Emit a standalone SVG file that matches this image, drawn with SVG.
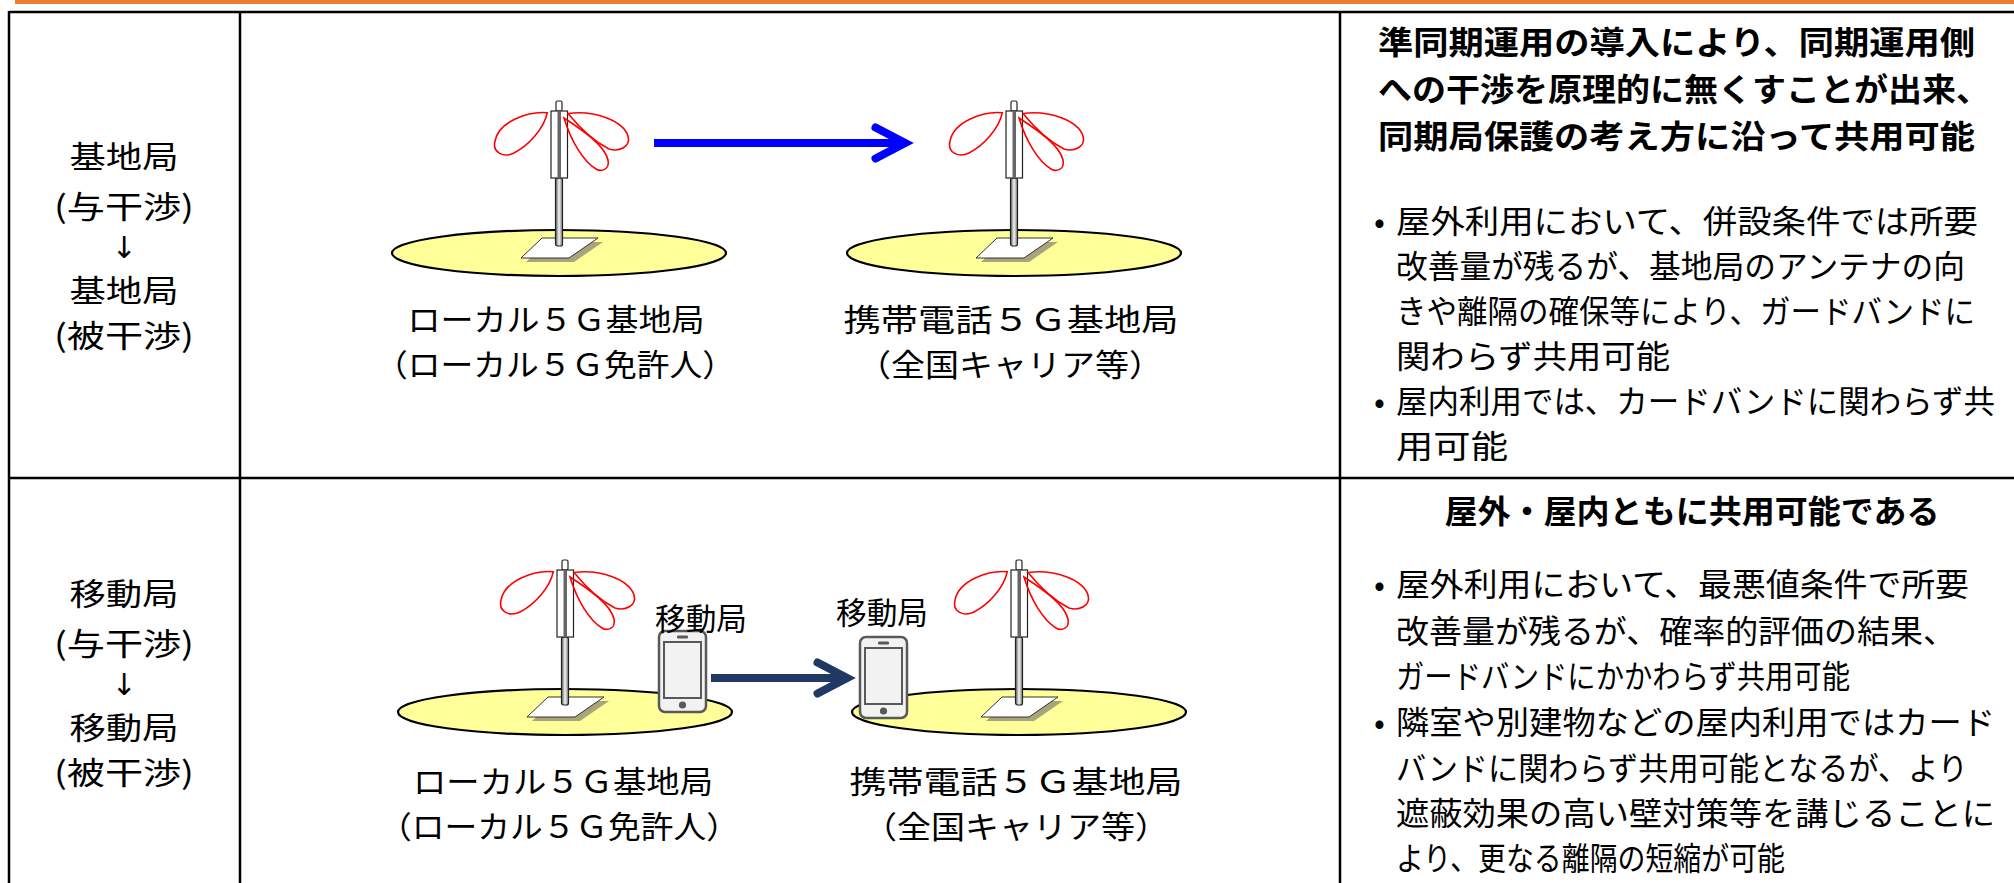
<svg xmlns="http://www.w3.org/2000/svg" xmlns:xlink="http://www.w3.org/1999/xlink" width="2014" height="883" viewBox="0 0 2014 883">
<style>
.t{font-family:"Noto Sans CJK JP","Noto Sans",sans-serif;fill:#000}
.lf{font-size:31px;text-anchor:middle}
.ar{font-family:"DejaVu Sans",sans-serif;font-size:30px;text-anchor:middle}
.md{font-size:31px;text-anchor:middle}
.ph{font-size:31px;text-anchor:middle}
.rt{font-size:32px}
.hd{font-size:32px;font-weight:700}
.grid{stroke:#000;stroke-width:2.5;fill:none}
.lobe{fill:none;stroke:#FF0000;stroke-width:1.6}
.pole{stroke:#222;stroke-width:1.2}
</style>
<defs>
<linearGradient id="poleG" x1="0" x2="1" y1="0" y2="0">
<stop offset="0" stop-color="#555"/>
<stop offset="0.5" stop-color="#F4F4F4"/>
<stop offset="1" stop-color="#777"/>
</linearGradient>
<marker id="headBlue" viewBox="0 0 10 10" refX="9" refY="5" markerWidth="4.4" markerHeight="4.4" orient="auto" overflow="visible">
<path d="M1.2,0.6 L9.6,5 L1.2,9.4" fill="none" stroke="#0000FF" stroke-width="2.3" stroke-linecap="round" stroke-linejoin="miter"/>
</marker>
<marker id="headNavy" viewBox="0 0 10 10" refX="9" refY="5" markerWidth="4.4" markerHeight="4.4" orient="auto" overflow="visible">
<path d="M1.2,0.6 L9.6,5 L1.2,9.4" fill="none" stroke="#203864" stroke-width="2.3" stroke-linecap="round" stroke-linejoin="miter"/>
</marker>
<g id="antenna">
<ellipse cx="0" cy="142" rx="167" ry="23" fill="#FFFF99" stroke="#000" stroke-width="2.2"/>
<polygon points="-33,151 -12,131 44,131 15,151" fill="#A8A47C"/>
<polygon points="-38,147 -17,127 39,127 10,147" fill="#FFF" stroke="#333" stroke-width="1"/>
<rect x="-3.5" y="67" width="7" height="68" rx="2" fill="url(#poleG)" class="pole"/>
<rect x="-3" y="-10" width="6" height="10" rx="1.5" fill="#FFF" class="pole"/>
<rect x="-8" y="0" width="16.5" height="67" fill="#FFF" class="pole"/>
<rect x="-1.5" y="0" width="3.5" height="67" fill="#666"/>
<path class="lobe" d="M-11.7,1.7 C-30,0 -60,10 -64,30 C-67,42 -55,47 -45,42 C-31,35 -15,18 -11.7,1.7 Z"/>
<path class="lobe" d="M9,2.5 C36,-1 64,10 69,25 C72,36 60,41 50,38 C36,31 20,16 9,2.5 Z"/>
<path class="lobe" d="M5,7 C25,20 46,35 49,49 C51,59 42,61 37,58 C24,50 12,30 5,7 Z"/>
</g>
<g id="phone">
<rect x="0" y="0" width="47" height="81" rx="6" fill="#F2F2F2" stroke="#595959" stroke-width="2.5"/>
<rect x="5" y="11" width="37" height="56" fill="#F2F2F2" stroke="#595959" stroke-width="2"/>
<rect x="18" y="4.5" width="11" height="3" rx="1.2" fill="#595959"/>
<circle cx="23.5" cy="74" r="3.6" fill="#595959"/>
</g>
</defs>

<rect x="15" y="0" width="2000" height="4" fill="#ED7D31"/>

<g id="table">
<line class="grid" x1="9" y1="12" x2="2014" y2="12"/>
<line class="grid" x1="9" y1="478" x2="2014" y2="478"/>
<line class="grid" x1="9" y1="11" x2="9" y2="883"/>
<line class="grid" x1="240" y1="11" x2="240" y2="883"/>
<line class="grid" x1="1340" y1="11" x2="1340" y2="883"/>
</g>

<g id="label-row1" class="t">
<text class="lf" x="124" y="168" textLength="109" lengthAdjust="spacingAndGlyphs">基地局</text>
<text class="lf" x="124" y="218" textLength="140" lengthAdjust="spacingAndGlyphs">(与干渉)</text>
<text class="ar" x="124" y="258">↓</text>
<text class="lf" x="124" y="302" textLength="109" lengthAdjust="spacingAndGlyphs">基地局</text>
<text class="lf" x="124" y="347" textLength="140" lengthAdjust="spacingAndGlyphs">(被干渉)</text>
</g>
<g id="label-row2" class="t">
<text class="lf" x="124" y="605" textLength="109" lengthAdjust="spacingAndGlyphs">移動局</text>
<text class="lf" x="124" y="655" textLength="140" lengthAdjust="spacingAndGlyphs">(与干渉)</text>
<text class="ar" x="124" y="695">↓</text>
<text class="lf" x="124" y="739" textLength="109" lengthAdjust="spacingAndGlyphs">移動局</text>
<text class="lf" x="124" y="784" textLength="140" lengthAdjust="spacingAndGlyphs">(被干渉)</text>
</g>

<g id="bs-local-1">
<use xlink:href="#antenna" href="#antenna" transform="translate(559,111)"/>
<g class="t md">
<text x="556" y="331" textLength="297" lengthAdjust="spacingAndGlyphs">ローカル５Ｇ基地局</text>
<text x="555" y="376" textLength="360" lengthAdjust="spacingAndGlyphs">（ローカル５Ｇ免許人）</text>
</g>
</g>
<g id="bs-carrier-1">
<use xlink:href="#antenna" href="#antenna" transform="translate(1014,111)"/>
<g class="t md">
<text x="1011" y="331" textLength="335" lengthAdjust="spacingAndGlyphs">携帯電話５Ｇ基地局</text>
<text x="1010" y="376" textLength="306" lengthAdjust="spacingAndGlyphs">（全国キャリア等）</text>
</g>
</g>

<g id="bs-local-2">
<use xlink:href="#antenna" href="#antenna" transform="translate(565,570)"/>
<g class="t md">
<text x="563" y="793" textLength="300" lengthAdjust="spacingAndGlyphs">ローカル５Ｇ基地局</text>
<text x="559" y="838" textLength="360" lengthAdjust="spacingAndGlyphs">（ローカル５Ｇ免許人）</text>
</g>
</g>
<g id="bs-carrier-2">
<use xlink:href="#antenna" href="#antenna" transform="translate(1019,570)"/>
<g class="t md">
<text x="1016" y="793" textLength="333" lengthAdjust="spacingAndGlyphs">携帯電話５Ｇ基地局</text>
<text x="1016" y="838" textLength="306" lengthAdjust="spacingAndGlyphs">（全国キャリア等）</text>
</g>
</g>

<g id="ms-1">
<use xlink:href="#phone" href="#phone" transform="translate(659,631)"/>
<text class="t ph" x="701" y="630" textLength="92" lengthAdjust="spacingAndGlyphs">移動局</text>
</g>
<g id="ms-2">
<use xlink:href="#phone" href="#phone" transform="translate(860,637)"/>
<text class="t ph" x="882" y="624" textLength="92" lengthAdjust="spacingAndGlyphs">移動局</text>
</g>

<g id="connectors">
<path d="M654,143 L903,143" stroke="#0000FF" stroke-width="8" fill="none" marker-end="url(#headBlue)"/>
<path d="M711,678 L845,678" stroke="#203864" stroke-width="8" fill="none" marker-end="url(#headNavy)"/>
</g>

<g id="result-row1" class="t">
<text class="hd" x="1378" y="54" textLength="597" lengthAdjust="spacingAndGlyphs">準同期運用の導入により、同期運用側</text>
<text class="hd" x="1378" y="101" textLength="612" lengthAdjust="spacingAndGlyphs">への干渉を原理的に無くすことが出来、</text>
<text class="hd" x="1378" y="148" textLength="597" lengthAdjust="spacingAndGlyphs">同期局保護の考え方に沿って共用可能</text>
<text class="rt" x="1374" y="233">•</text>
<text class="rt" x="1396" y="233" textLength="582" lengthAdjust="spacingAndGlyphs">屋外利用において、併設条件では所要</text>
<text class="rt" x="1396" y="278" textLength="569" lengthAdjust="spacingAndGlyphs">改善量が残るが、基地局のアンテナの向</text>
<text class="rt" x="1396" y="323" textLength="579" lengthAdjust="spacingAndGlyphs">きや離隔の確保等により、ガードバンドに</text>
<text class="rt" x="1396" y="368" textLength="274" lengthAdjust="spacingAndGlyphs">関わらず共用可能</text>
<text class="rt" x="1374" y="413">•</text>
<text class="rt" x="1396" y="413" textLength="599" lengthAdjust="spacingAndGlyphs">屋内利用では、カードバンドに関わらず共</text>
<text class="rt" x="1396" y="458" textLength="112" lengthAdjust="spacingAndGlyphs">用可能</text>
</g>

<g id="result-row2" class="t">
<text class="hd" x="1692" y="523" text-anchor="middle" textLength="495" lengthAdjust="spacingAndGlyphs">屋外・屋内ともに共用可能である</text>
<text class="rt" x="1374" y="596">•</text>
<text class="rt" x="1396" y="596" textLength="573" lengthAdjust="spacingAndGlyphs">屋外利用において、最悪値条件で所要</text>
<text class="rt" x="1396" y="643" textLength="560" lengthAdjust="spacingAndGlyphs">改善量が残るが、確率的評価の結果、</text>
<text class="rt" x="1396" y="688" textLength="454" lengthAdjust="spacingAndGlyphs">ガードバンドにかかわらず共用可能</text>
<text class="rt" x="1374" y="734">•</text>
<text class="rt" x="1396" y="734" textLength="599" lengthAdjust="spacingAndGlyphs">隣室や別建物などの屋内利用ではカード</text>
<text class="rt" x="1396" y="780" textLength="572" lengthAdjust="spacingAndGlyphs">バンドに関わらず共用可能となるが、より</text>
<text class="rt" x="1396" y="825" textLength="599" lengthAdjust="spacingAndGlyphs">遮蔽効果の高い壁対策等を講じることに</text>
<text class="rt" x="1396" y="870" textLength="389" lengthAdjust="spacingAndGlyphs">より、更なる離隔の短縮が可能</text>
</g>
</svg>
